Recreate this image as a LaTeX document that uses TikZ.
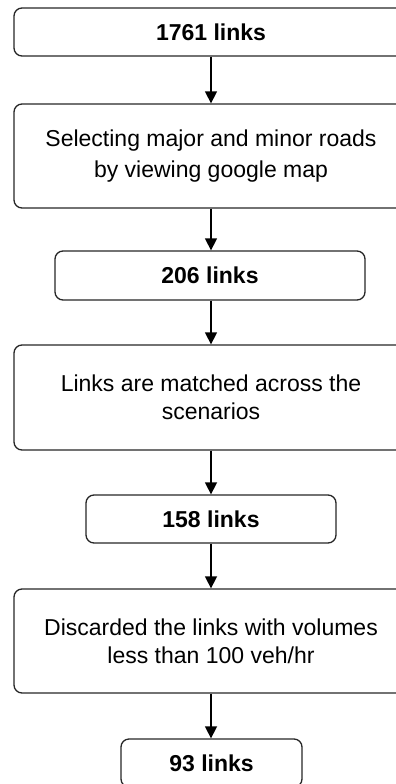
\documentclass[tikz,border=0pt]{standalone}
\usepackage{fontspec}
\setmainfont{Liberation Sans}
\usetikzlibrary{arrows.meta}
\begin{document}
\begin{tikzpicture}[x=1pt,y=-1pt,
  box/.style={draw=black!85, line width=1.3pt, rounded corners=8pt, align=center,
    inner sep=0pt, font=\fontsize{23}{28}\selectfont},
  countbox/.style={box, font=\fontsize{23}{28}\selectfont\bfseries},
  flow/.style={draw=black, line width=1.5pt, -{Triangle[width=12pt,length=12pt]}}]
\useasboundingbox (0,0) rectangle (396,784);
\clip (0,0) rectangle (396,784);
\node[countbox, minimum width=394pt, minimum height=48pt] (n1761) at (211,32) {1761 links};
\node[box, minimum width=394pt, minimum height=104pt, font=\fontsize{23}{31}\selectfont] (select) at (211,156)
  {Selecting major and minor roads\\by viewing google map};
\node[countbox, minimum width=310pt, minimum height=49pt] (n206) at (210,275.5) {206 links};
\node[box, minimum width=394pt, minimum height=105pt] (match) at (211,397.5)
  {Links are matched across the\\scenarios};
\node[countbox, minimum width=250pt, minimum height=48pt] (n158) at (211,519) {158 links};
\node[box, minimum width=394pt, minimum height=104pt] (discard) at (211,641)
  {Discarded the links with volumes\\less than 100 veh/hr};
\node[countbox, minimum width=181pt, minimum height=48pt] (n93) at (211.5,763) {93 links};
\draw[flow] (n1761.south -| 211,0) -- (select.north -| 211,0);
\draw[flow] (select.south -| 211,0) -- (n206.north -| 211,0);
\draw[flow] (n206.south -| 211,0) -- (match.north -| 211,0);
\draw[flow] (match.south -| 211,0) -- (n158.north -| 211,0);
\draw[flow] (n158.south -| 211,0) -- (discard.north -| 211,0);
\draw[flow] (discard.south -| 211,0) -- (n93.north -| 211,0);
\end{tikzpicture}
\end{document}
